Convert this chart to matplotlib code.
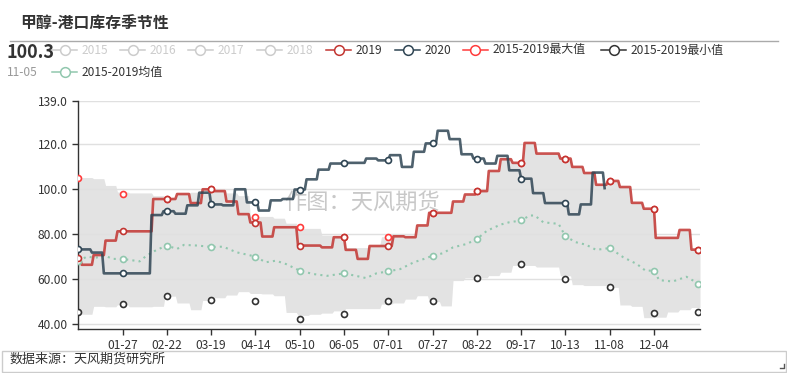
import numpy as np
import pandas as pd
import matplotlib
matplotlib.use('Agg')
import matplotlib.pyplot as plt
from matplotlib.lines import Line2D
from matplotlib.patches import Rectangle

plt.rcParams['font.family'] = ['Noto Sans CJK SC', 'DejaVu Sans']

# seasonal axis: one slot per calendar day of a leap year
calendar = pd.date_range('2020-01-01', '2020-12-31')
day_labels = list(calendar.strftime('%m-%d'))

# weekly methanol port inventory; first value is the level carried into 01-01
start_2019 = '2019-01-03'
inv_2019 = [69.3,
            66.4, 70.7, 77.1, 81.2, 81.2, 81.2, 95.5, 95.5, 97.7, 93.7,
            99.8, 99.0, 94.4, 88.8, 85.1, 78.9, 83.0, 83.0, 74.9, 74.9,
            74.1, 78.6, 73.0, 69.0, 74.7, 74.7, 79.0, 78.6, 83.8, 89.4,
            89.4, 94.4, 97.5, 99.0, 107.9, 113.1, 111.5, 120.3, 115.6, 115.6,
            113.4, 109.7, 107.0, 101.8, 103.5, 100.8, 93.8, 91.2, 78.3, 78.3,
            81.8, 73.1]

start_2020 = '2020-01-02'
inv_2020 = [73.2,
            73.2, 71.8, 62.6, 62.6, 62.6, 62.6, 88.4, 90.1, 89.0, 92.7,
            98.3, 93.1, 92.7, 99.8, 94.0, 90.4, 94.9, 95.5, 99.7, 104.2,
            108.5, 111.2, 111.5, 111.5, 113.4, 112.6, 114.9, 109.7, 116.4, 120.1,
            125.7, 122.0, 115.3, 113.4, 111.2, 114.6, 108.2, 104.5, 98.1, 93.7,
            93.7, 88.7, 93.1, 107.2, 100.3]

# 2015-2019 range band (same weekly grid as 2019)
band_max = [105.0,
            105.0, 104.5, 101.5, 98.6, 98.2, 98.2, 97.0, 96.0, 98.0, 98.5,
            100.0, 99.5, 98.2, 97.0, 87.8, 87.8, 87.0, 84.8, 82.5, 82.5,
            79.5, 78.6, 74.0, 74.0, 75.0, 78.8, 79.5, 79.0, 83.8, 89.4,
            89.4, 94.4, 97.5, 99.0, 107.9, 113.1, 111.5, 120.3, 115.6, 115.6,
            113.4, 109.7, 107.0, 101.8, 103.5, 100.8, 93.8, 91.2, 78.3, 78.3,
            81.8, 73.1]
band_min = [45.5,
            44.5, 48.0, 47.8, 48.7, 47.8, 47.8, 48.0, 52.5, 49.5, 46.5,
            50.6, 51.8, 53.0, 54.5, 53.7, 53.5, 52.7, 45.3, 44.0, 44.5,
            45.0, 46.0, 47.0, 47.0, 47.0, 49.0, 49.5, 51.2, 52.7, 50.1,
            48.2, 59.4, 60.6, 60.6, 61.6, 63.1, 66.1, 66.1, 65.4, 65.4,
            61.5, 57.6, 57.2, 57.2, 56.4, 48.6, 48.0, 43.0, 43.2, 45.5,
            46.5, 47.5]

# 2015-2019 mean
avg_days = ['01-01', '01-06', '01-11', '01-17', '01-21', '01-27', '02-06', '02-10',
            '02-16', '02-22', '02-28', '03-03', '03-11', '03-19', '03-26', '04-03',
            '04-09', '04-14', '04-20', '04-26', '05-02', '05-10', '05-18', '05-26',
            '06-05', '06-12', '06-18', '06-24', '07-01', '07-08', '07-16', '07-22',
            '07-27', '08-02', '08-08', '08-16', '08-22', '08-28', '09-05', '09-10',
            '09-17', '09-22', '09-25', '09-30', '10-09', '10-13', '10-19', '10-25',
            '10-31', '11-08', '11-16', '11-24', '11-29', '12-04', '12-07', '12-15',
            '12-23', '12-30']
avg_vals = [68.0, 70.0, 69.5, 70.4, 69.0, 69.0, 67.9, 70.4,
            73.0, 74.9, 73.4, 75.2, 74.9, 74.3, 74.4, 71.9,
            70.9, 70.0, 67.5, 68.2, 66.7, 63.8, 62.3, 61.5,
            62.6, 61.5, 60.5, 62.6, 63.5, 64.5, 67.5, 69.0,
            70.4, 71.5, 74.1, 75.6, 77.8, 81.5, 84.2, 85.2,
            86.0, 88.2, 88.2, 85.2, 84.5, 79.0, 76.4, 75.3,
            73.0, 73.8, 69.7, 66.7, 63.8, 63.8, 59.6, 59.0,
            61.1, 58.1]

# max / min series symbols (shown every 26 days)
max_marks = [105.0, 97.5, 95.5, 99.8, 87.5, 83.0, 78.6, 78.6, 89.4, 99.0,
             111.5, 113.4, 103.5, 91.2, 73.1]
min_marks = [45.7, 48.9, 52.6, 50.7, 50.4, 42.2, 44.5, 50.4, 50.4, 60.6,
             66.9, 60.1, 56.4, 44.9, 45.7]

RED = '#c23531'
SLATE = '#2f4554'
GREEN = '#91c7ae'
MAXC = '#ff3b3b'
MINC = '#333333'
GREY = '#cccccc'
TXT = '#333333'


def weekly_to_daily(start, values, fill_to_end=True):
    s = pd.Series(np.nan, index=day_labels)
    s.iloc[0] = values[0]
    dates = pd.date_range(start, periods=len(values) - 1, freq='7D')
    for d, v in zip(dates.strftime('%m-%d'), values[1:]):
        s[d] = v
    if fill_to_end:
        return s.ffill().to_numpy()
    return s.ffill(limit_area='inside').to_numpy()


s2019 = weekly_to_daily(start_2019, inv_2019)
s2020 = weekly_to_daily(start_2020, inv_2020, fill_to_end=False)
hi = weekly_to_daily(start_2019, band_max)
lo = weekly_to_daily(start_2019, band_min)

x = np.arange(len(day_labels))
mark_idx = np.arange(0, len(day_labels), 26)
avg_x = np.array([day_labels.index(d) for d in avg_days])
avg_y = np.array(avg_vals)
avg_mark = np.isin(avg_x, mark_idx)

W, H = 787, 373


def fx(px):
    return px / W


def fy(py):
    return 1 - py / H


fig = plt.figure(figsize=(W / 100, H / 100), dpi=100)
ax = fig.add_axes([fx(78.3), fy(328.5), fx(700) - fx(78.3), fy(100.7) - fy(328.5)])

ax.fill_between(x, lo, hi, color='#e3e3e3', lw=0, zorder=1)
ax.plot(avg_x, avg_y, color=GREEN, lw=1.5, ls=(0, (1, 2)), zorder=2.5)
ax.plot(x, s2019, color=RED, lw=1.9, alpha=0.85, zorder=3)
ax.plot(x, s2020, color=SLATE, lw=1.9, alpha=0.85, zorder=4)

mk = dict(ls='none', marker='o', ms=4.3, mfc='white', mew=1.2)
ax.plot(avg_x[avg_mark], avg_y[avg_mark], mec=GREEN, zorder=5, **mk)
ax.plot(mark_idx, max_marks, mec=MAXC, zorder=6, **mk)
ax.plot(mark_idx, min_marks, mec=MINC, zorder=6, **mk)
ax.plot(mark_idx, s2019[mark_idx], mec=RED, zorder=6, **mk)
ok = ~np.isnan(s2020[mark_idx])
ax.plot(mark_idx[ok], s2020[mark_idx][ok], mec=SLATE, zorder=6, **mk)

# watermark, kept under the series
ax.text(fx(362), fy(203), '作图：天风期货', transform=fig.transFigure, fontsize=16,
        color='#c8c8c8', ha='center', va='center', zorder=1.6)

yt = [40, 60, 80, 100, 120, 139]
ax.set_ylim(38.2, 139)
ax.set_yticks(yt)
ax.set_yticklabels([f'{v:.2f}'[:5] for v in yt])
xt = mark_idx[1:-1]
ax.set_xlim(0, 365)
ax.set_xticks(xt)
ax.set_xticklabels([day_labels[i] for i in xt])

ax.grid(axis='y', color='#e0e0e0', lw=1)
ax.set_axisbelow('line')
for side in ['top', 'right']:
    ax.spines[side].set_visible(False)
for side in ['left', 'bottom']:
    ax.spines[side].set_color(TXT)
    ax.spines[side].set_linewidth(1)
ax.tick_params(axis='both', colors=TXT, labelsize=8.6, length=4.5, width=1, pad=3)

# title block
fig.text(fx(20), fy(23), '甲醇-港口库存季节性', fontsize=11.4, fontweight='bold',
         color=TXT, ha='left', va='center')
fig.add_artist(Line2D([fx(10), fx(778)], [fy(40.5), fy(40.5)], color='#aaaaaa', lw=1))


def legend_item(xt_px, y_px, color, label, active=True):
    c = color if active else GREY
    fig.add_artist(Line2D([fx(xt_px - 30), fx(xt_px - 5)], [fy(y_px), fy(y_px)],
                          color=c, lw=1.1))
    fig.add_artist(Line2D([fx(xt_px - 17.5)], [fy(y_px)], marker='o', ms=7,
                          mfc='white', mec=c, mew=1.1))
    fig.text(fx(xt_px), fy(y_px), label, fontsize=8.6, color=TXT if active else GREY,
             ha='left', va='center')


legend_item(82, 50, GREY, '2015', False)
legend_item(150, 50, GREY, '2016', False)
legend_item(218, 50, GREY, '2017', False)
legend_item(287, 50, GREY, '2018', False)
legend_item(356, 50, RED, '2019')
legend_item(425, 50, SLATE, '2020')
legend_item(493, 50, MAXC, '2015-2019最大值')
legend_item(631, 50, MINC, '2015-2019最小值')
legend_item(82, 72, GREEN, '2015-2019均值')

last = np.where(~np.isnan(s2020))[0][-1]
fig.text(fx(7), fy(52), f'{s2020[last]:.1f}', fontsize=13, fontweight='bold',
         color=TXT, ha='left', va='center')
fig.text(fx(7), fy(73), day_labels[last], fontsize=8.6, color='#999999',
         ha='left', va='center')

# source footer
fig.add_artist(Rectangle((fx(2), fy(372)), fx(786) - fx(2), fy(351) - fy(372),
                         fill=False, ec='#cccccc', lw=1))
fig.text(fx(10), fy(359), '数据来源：天风期货研究所', fontsize=9.4, color=TXT,
         ha='left', va='center')
fig.add_artist(Line2D([fx(780), fx(784), fx(784)], [fy(368), fy(368), fy(364)],
                      color='#555555', lw=1))

fig.savefig('out.png', dpi=100)
